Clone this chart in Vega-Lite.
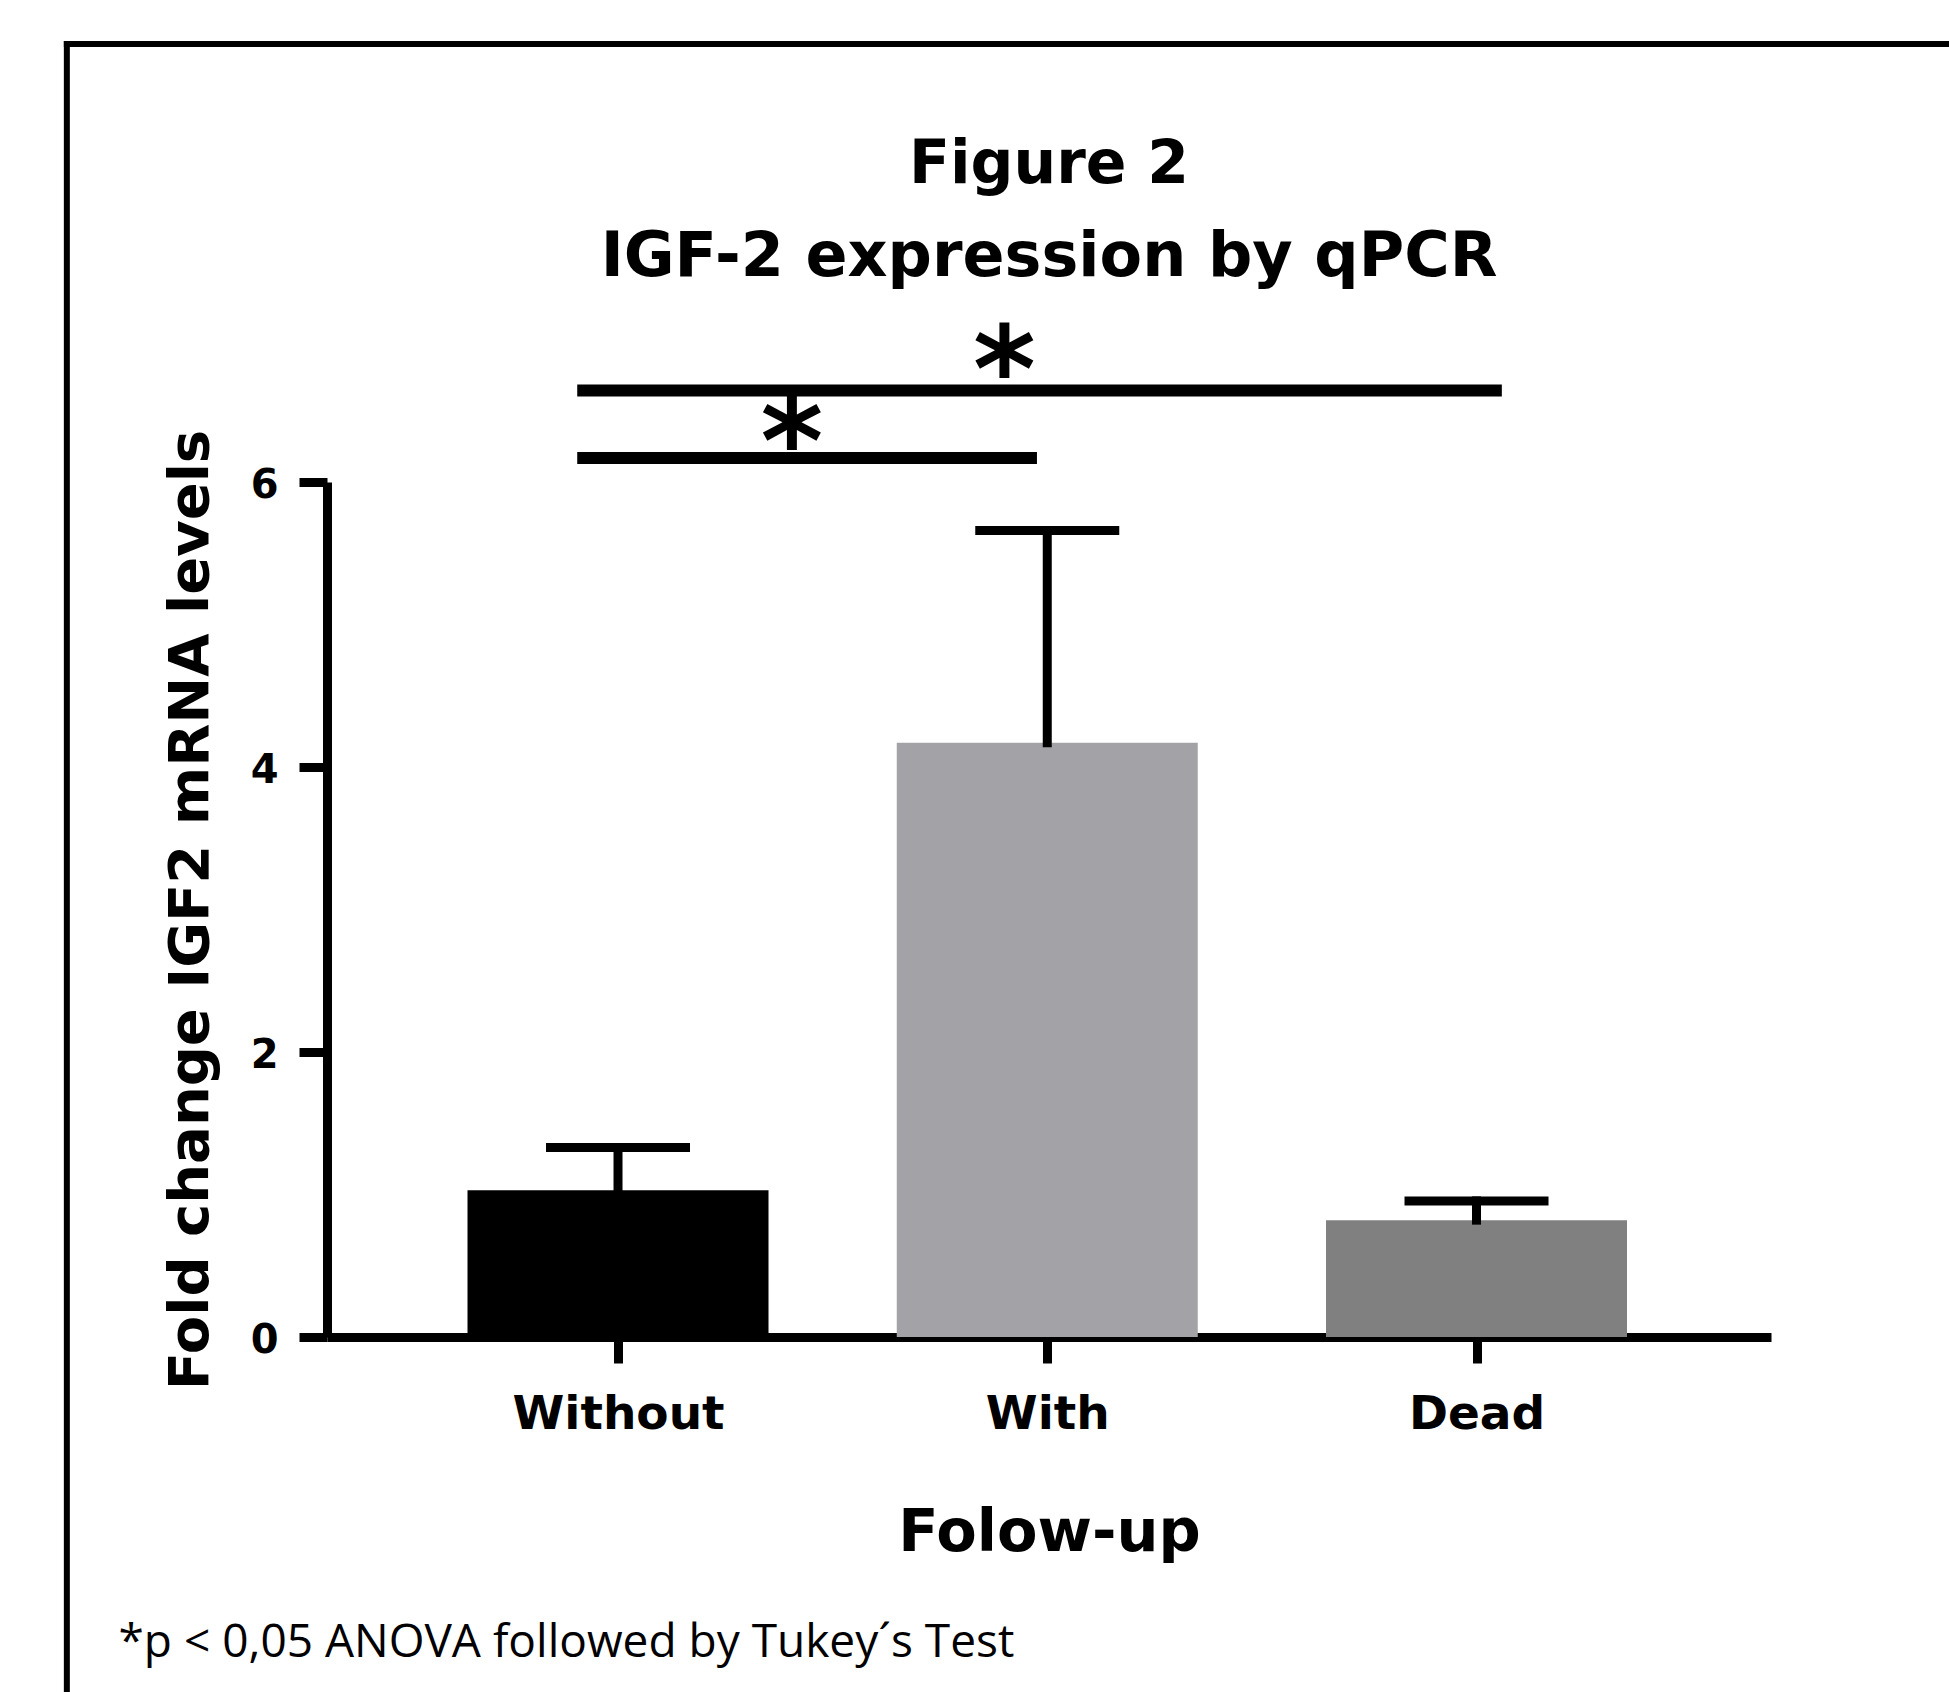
{
  "$schema": "https://vega.github.io/schema/vega-lite/v6.json",
  "width": 1444,
  "height": 855,
  "autosize": {"type": "none"},
  "padding": {"left": 327, "top": 482, "right": 178, "bottom": 355},
  "background": "white",
  "title": {
    "text": "Figure 2",
    "subtitle": "IGF-2 expression by qPCR",
    "frame": "group",
    "anchor": "middle",
    "offset": -249,
    "font": "DejaVu Sans",
    "fontWeight": "bold",
    "fontSize": 60,
    "color": "black",
    "subtitleFont": "DejaVu Sans",
    "subtitleFontWeight": "bold",
    "subtitleFontSize": 62,
    "subtitleColor": "black",
    "subtitlePadding": 31
  },
  "config": {"view": {"stroke": null}, "axis": {"grid": false}},
  "datasets": {
    "groups": [
      {"group": "Without", "idx": 1, "mean": 1.03, "upper": 1.33},
      {"group": "With", "idx": 2, "mean": 4.17, "upper": 5.66},
      {"group": "Dead", "idx": 3, "mean": 0.82, "upper": 0.955}
    ],
    "comparisons": [
      {"pair": "Without vs With", "from": 0.905, "to": 1.976, "y": 6.168, "star_x": 1.405, "star_y": 5.99, "label": "*"},
      {"pair": "Without vs Dead", "from": 0.905, "to": 3.059, "y": 6.642, "star_x": 1.9, "star_y": 6.5, "label": "*"}
    ],
    "notes": [
      {"note": "*p < 0,05 ANOVA followed by Tukey´s Test"}
    ]
  },
  "layer": [
    {
      "data": {"name": "groups"},
      "mark": {"type": "bar", "width": 301, "orient": "vertical"},
      "encoding": {
        "x": {
          "field": "idx",
          "type": "quantitative",
          "scale": {"domain": [0.3337, 3.6744], "nice": false, "zero": false},
          "axis": {
            "values": [1, 2, 3],
            "labelExpr": "datum.value == 1 ? 'Without' : datum.value == 2 ? 'With' : 'Dead'",
            "domainColor": "black",
            "domainWidth": 9,
            "tickColor": "black",
            "tickWidth": 9,
            "tickSize": 26,
            "labelFont": "DejaVu Sans",
            "labelFontWeight": "bold",
            "labelFontSize": 47,
            "labelColor": "black",
            "labelPadding": 28,
            "labelAngle": 0,
            "labelLimit": 600,
            "labelFlush": false,
            "labelOverlap": false,
            "title": "Folow-up",
            "titleFont": "DejaVu Sans",
            "titleFontWeight": "bold",
            "titleFontSize": 59,
            "titleColor": "black",
            "titleY": 213,
            "titleBaseline": "alphabetic"
          }
        },
        "y": {
          "field": "mean",
          "type": "quantitative",
          "scale": {"domain": [0, 6], "nice": false},
          "axis": {
            "values": [0, 2, 4, 6],
            "format": "d",
            "domainColor": "black",
            "domainWidth": 9,
            "tickColor": "black",
            "tickWidth": 9,
            "tickSize": 28,
            "labelFont": "DejaVu Sans",
            "labelFontWeight": "bold",
            "labelFontSize": 40,
            "labelColor": "black",
            "labelPadding": 21,
            "labelBaseline": "middle",
            "labelOffset": 3,
            "labelFlush": false,
            "labelOverlap": false,
            "title": "Fold change IGF2 mRNA levels",
            "titleFont": "DejaVu Sans",
            "titleFontWeight": "bold",
            "titleFontSize": 56,
            "titleColor": "black",
            "titleX": -120,
            "titleBaseline": "alphabetic"
          }
        },
        "y2": {"datum": 0},
        "color": {
          "field": "group",
          "type": "nominal",
          "scale": {"domain": ["Without", "With", "Dead"], "range": ["#000000", "#A3A2A7", "#808080"]},
          "legend": null
        }
      }
    },
    {
      "data": {"name": "groups"},
      "mark": {"type": "rule", "strokeWidth": 9, "strokeCap": "square", "color": "black"},
      "encoding": {
        "x": {"field": "idx", "type": "quantitative"},
        "y": {"field": "mean", "type": "quantitative"},
        "y2": {"field": "upper"}
      }
    },
    {
      "data": {"name": "groups"},
      "mark": {"type": "tick", "orient": "horizontal", "size": 144, "thickness": 9, "color": "black", "opacity": 1},
      "encoding": {
        "x": {"field": "idx", "type": "quantitative"},
        "y": {"field": "upper", "type": "quantitative"}
      }
    },
    {
      "data": {"name": "comparisons"},
      "mark": {"type": "rule", "strokeWidth": 12, "color": "black"},
      "encoding": {
        "x": {"field": "from", "type": "quantitative"},
        "x2": {"field": "to"},
        "y": {"field": "y", "type": "quantitative"}
      }
    },
    {
      "data": {"name": "comparisons"},
      "mark": {"type": "text", "font": "DejaVu Sans", "fontWeight": "bold", "fontSize": 120, "align": "center", "baseline": "alphabetic", "color": "black"},
      "encoding": {
        "x": {"field": "star_x", "type": "quantitative"},
        "y": {"field": "star_y", "type": "quantitative"},
        "text": {"field": "label"}
      }
    },
    {
      "data": {"name": "notes"},
      "mark": {"type": "text", "font": "Open Sans", "fontSize": 46, "align": "left", "baseline": "alphabetic", "color": "black"},
      "encoding": {
        "x": {"datum": -0.1637},
        "y": {"datum": -2.2456},
        "text": {"field": "note"}
      }
    },
    {
      "data": {"values": [{"part": "top"}]},
      "mark": {"type": "rule", "strokeWidth": 6, "strokeCap": "square", "color": "black"},
      "encoding": {
        "x": {"datum": -0.284},
        "x2": {"datum": 5},
        "y": {"datum": 9.074}
      }
    },
    {
      "data": {"values": [{"part": "left"}]},
      "mark": {"type": "rule", "strokeWidth": 6, "strokeCap": "square", "color": "black"},
      "encoding": {
        "x": {"datum": -0.284},
        "y": {"datum": 9.074},
        "y2": {"datum": -3}
      }
    }
  ]
}
